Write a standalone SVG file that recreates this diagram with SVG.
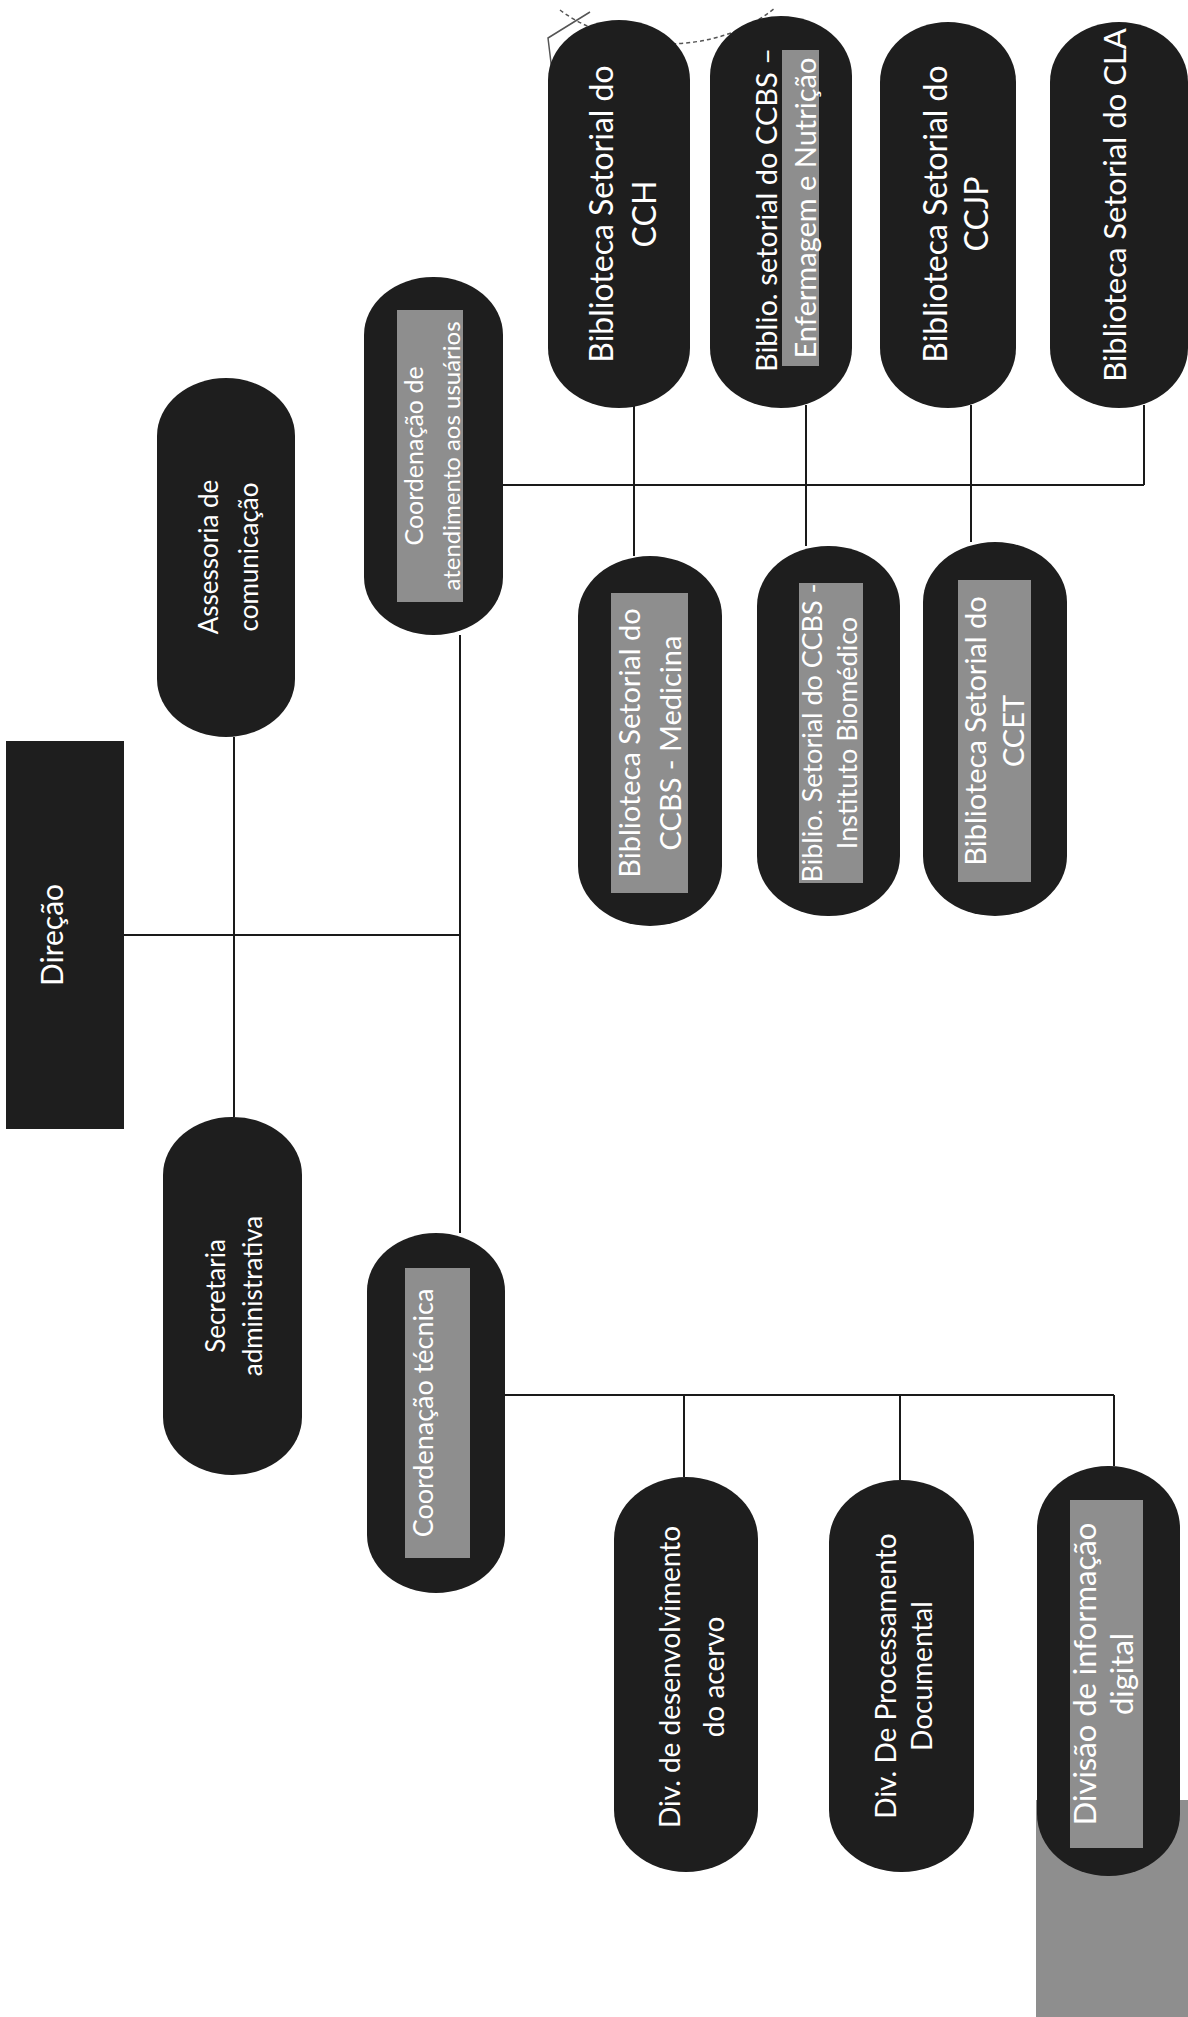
<svg xmlns="http://www.w3.org/2000/svg" width="1188" height="2017" viewBox="0 0 1188 2017">
<style>
.box{fill:#1e1e1e}
.hl{fill:#8e8e8e}
.t{font-family:Lato,"Open Sans","Liberation Sans",sans-serif;fill:#ffffff;text-anchor:middle}
.edge{stroke:#1a1a1a;stroke-width:2;fill:none}
.mark{stroke:#555;stroke-width:1.5;fill:none}
</style>
<rect width="1188" height="2017" fill="#ffffff"/>
<g id="stamp">
<path class="mark" stroke-dasharray="4 3" d="M 560 10 Q 600 40 665 44 Q 730 44 775 8"/>
<path class="mark" d="M 590 12 L 548 38 L 556 104"/>
</g>
<g id="connectors">
<line class="edge" x1="124" y1="935" x2="460" y2="935"/>
<line class="edge" x1="234" y1="737" x2="234" y2="1117"/>
<line class="edge" x1="460" y1="635" x2="460" y2="1233"/>
<line class="edge" x1="502" y1="485" x2="1144" y2="485"/>
<line class="edge" x1="634" y1="405" x2="634" y2="556"/>
<line class="edge" x1="806" y1="405" x2="806" y2="546"/>
<line class="edge" x1="971" y1="405" x2="971" y2="542"/>
<line class="edge" x1="1144" y1="405" x2="1144" y2="485"/>
<line class="edge" x1="505" y1="1395" x2="1114" y2="1395"/>
<line class="edge" x1="684" y1="1395" x2="684" y2="1477"/>
<line class="edge" x1="900" y1="1395" x2="900" y2="1480"/>
<line class="edge" x1="1114" y1="1395" x2="1114" y2="1466"/>
</g>
<g id="n-direcao">
<rect class="box" x="6" y="741" width="118" height="388"/>
<text class="t" font-size="30" transform="translate(63,935) rotate(-90)">Direção</text>
</g>
<g id="n-assessoria">
<rect class="box" x="157" y="378" width="138" height="359" rx="69" ry="58"/>
<text class="t" font-size="26" transform="translate(218,557) rotate(-90)">Assessoria de</text>
<text class="t" font-size="26" transform="translate(258,557) rotate(-90)">comunicação</text>
</g>
<g id="n-secretaria">
<rect class="box" x="163" y="1117" width="139" height="358" rx="69" ry="58"/>
<text class="t" font-size="26" transform="translate(225,1296) rotate(-90)">Secretaria</text>
<text class="t" font-size="26" transform="translate(262,1296) rotate(-90)">administrativa</text>
</g>
<g id="n-coord-atendimento">
<rect class="box" x="364" y="277" width="139" height="358" rx="69" ry="58"/>
<rect class="hl" x="397" y="310" width="66" height="292"/>
<text class="t" font-size="25" transform="translate(423,456) rotate(-90)">Coordenação de</text>
<text class="t" font-size="24" transform="translate(460,456) rotate(-90)">atendimento aos usuários</text>
</g>
<g id="n-coord-tecnica">
<rect class="box" x="367" y="1233" width="138" height="360" rx="69" ry="58"/>
<rect class="hl" x="405" y="1268" width="65" height="290"/>
<text class="t" font-size="27" transform="translate(433,1413) rotate(-90)">Coordenação técnica</text>
</g>
<g id="n-cch">
<rect class="box" x="548" y="20" width="142" height="388" rx="71" ry="60"/>
<text class="t" font-size="32" transform="translate(613,214) rotate(-90)">Biblioteca Setorial do</text>
<text class="t" font-size="32" transform="translate(656,214) rotate(-90)">CCH</text>
</g>
<g id="n-ccbs-enf">
<rect class="box" x="710" y="16" width="142" height="392" rx="71" ry="60"/>
<rect class="hl" x="782" y="50" width="37" height="316"/>
<text class="t" font-size="29" transform="translate(777,210) rotate(-90)">Biblio. setorial do CCBS –</text>
<text class="t" font-size="29" transform="translate(816,208) rotate(-90)">Enfermagem e Nutrição</text>
</g>
<g id="n-ccjp">
<rect class="box" x="880" y="22" width="136" height="386" rx="68" ry="60"/>
<text class="t" font-size="32" transform="translate(947,214) rotate(-90)">Biblioteca Setorial do</text>
<text class="t" font-size="32" transform="translate(988,214) rotate(-90)">CCJP</text>
</g>
<g id="n-cla">
<rect class="box" x="1050" y="22" width="138" height="386" rx="69" ry="60"/>
<text class="t" font-size="31" transform="translate(1126,205) rotate(-90)">Biblioteca Setorial do CLA</text>
</g>
<g id="n-medicina">
<rect class="box" x="578" y="556" width="144" height="370" rx="72" ry="60"/>
<rect class="hl" x="611" y="593" width="77" height="300"/>
<text class="t" font-size="29" transform="translate(640,743) rotate(-90)">Biblioteca Setorial do</text>
<text class="t" font-size="29" transform="translate(681,743) rotate(-90)">CCBS - Medicina</text>
</g>
<g id="n-instituto">
<rect class="box" x="757" y="546" width="143" height="370" rx="71" ry="60"/>
<rect class="hl" x="799" y="583" width="64" height="300"/>
<text class="t" font-size="27" transform="translate(822,733) rotate(-90)">Biblio. Setorial do CCBS -</text>
<text class="t" font-size="27" transform="translate(857,733) rotate(-90)">Instituto Biomédico</text>
</g>
<g id="n-ccet">
<rect class="box" x="923" y="542" width="144" height="374" rx="72" ry="60"/>
<rect class="hl" x="958" y="580" width="73" height="302"/>
<text class="t" font-size="29" transform="translate(986,731) rotate(-90)">Biblioteca Setorial do</text>
<text class="t" font-size="29" transform="translate(1024,731) rotate(-90)">CCET</text>
</g>
<g id="n-div-acervo">
<rect class="box" x="614" y="1477" width="144" height="395" rx="72" ry="62"/>
<text class="t" font-size="28" transform="translate(680,1677) rotate(-90)">Div. de desenvolvimento</text>
<text class="t" font-size="28" transform="translate(724,1677) rotate(-90)">do acervo</text>
</g>
<g id="n-div-processamento">
<rect class="box" x="829" y="1480" width="145" height="392" rx="72" ry="62"/>
<text class="t" font-size="28" transform="translate(896,1676) rotate(-90)">Div. De Processamento</text>
<text class="t" font-size="28" transform="translate(932,1676) rotate(-90)">Documental</text>
</g>
<g id="n-gray-box">
<rect class="hl" x="1036" y="1800" width="152" height="217"/>
</g>
<g id="n-div-informacao">
<rect class="box" x="1037" y="1466" width="143" height="410" rx="71" ry="62"/>
<rect class="hl" x="1070" y="1500" width="73" height="348"/>
<text class="t" font-size="31" transform="translate(1096,1674) rotate(-90)">Divisão de informação</text>
<text class="t" font-size="31" transform="translate(1133,1674) rotate(-90)">digital</text>
</g>
</svg>
